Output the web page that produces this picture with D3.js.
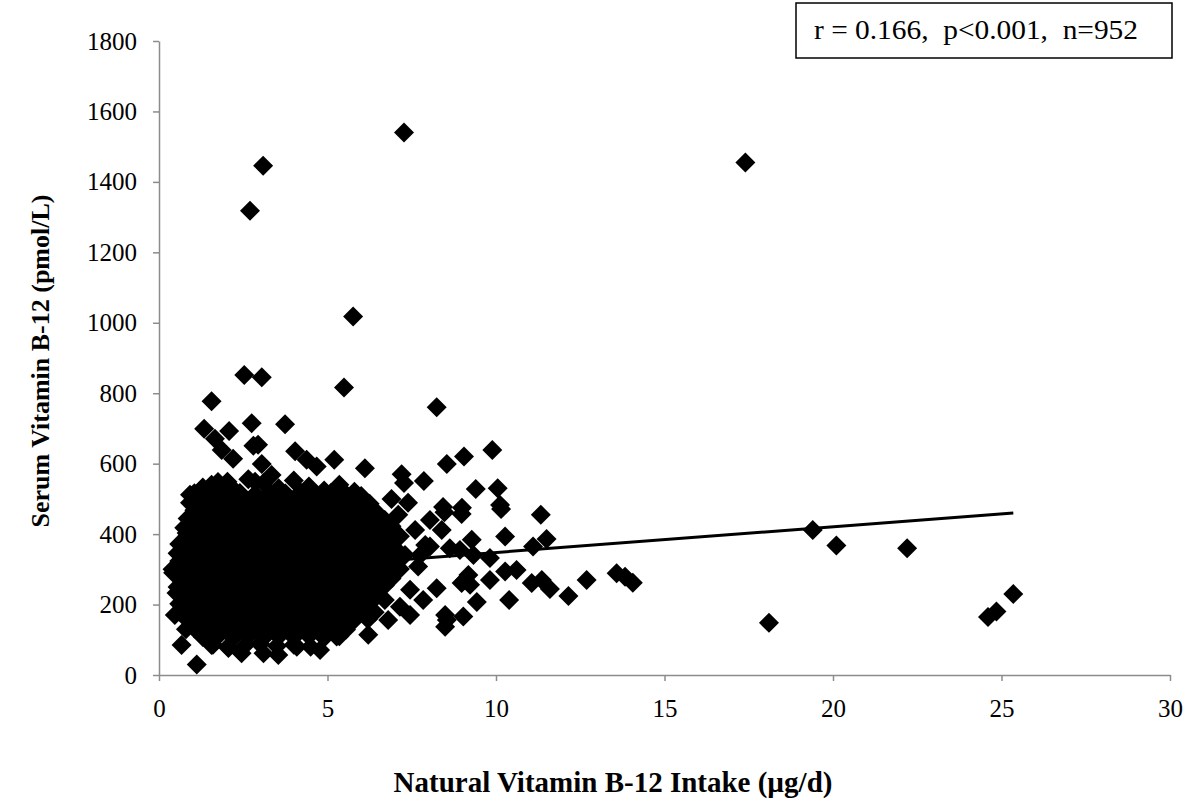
<!DOCTYPE html>
<html lang="en">
<head>
  <meta charset="UTF-8">
  <title>Serum B-12 vs intake</title>
  <script src="https://d3js.org/d3.v7.min.js"></script>
  <style>
    body { margin: 0; background: white; }
    svg { display: block; font-family: "Liberation Serif", "Times New Roman", serif; }
    .axis text { font-family: "Liberation Serif", "Times New Roman", serif; font-size: 25px; fill: #000; }
    .axis path, .axis line { stroke: #8c8c8c; stroke-width: 1.5px; }
    .title { font-size: 26px; font-weight: bold; }
    .note { font-size: 27px; white-space: pre; }
  </style>
</head>
<body>
  <svg id="chart" width="1200" height="809"></svg>
  <script>
    // tick labels
    const xTicks = [0, 5, 10, 15, 20, 25, 30];
    const yTicks = [0, 200, 400, 600, 800, 1000, 1200, 1400, 1600, 1800];

    // [intake µg/d, serum pmol/L]
    // dense core, row by row from the top (the core is solid black, so these are estimates)
    const cluster = [
      [1.3,532],[1.75,548],[2.2,528],[2.65,556],[3.1,545],[3.55,530],[4.0,552],[4.45,535],[4.9,524],[5.35,540],[5.8,520],
      [1.05,516],[1.5,519],[1.95,514],[2.4,517],[2.85,513],[3.3,518],[3.75,515],[4.2,519],[4.65,514],[5.1,517],[5.55,513],[6.0,508],
      [1.0,488],[1.3,494],[1.75,490],[2.2,493],[2.65,489],[3.1,494],[3.55,491],[4.0,495],[4.45,490],[4.9,493],[5.35,489],[5.8,494],[6.25,486],
      [1.05,468],[1.5,471],[1.95,466],[2.4,469],[2.85,465],[3.3,470],[3.75,467],[4.2,471],[4.65,466],[5.1,469],[5.55,465],[6.0,470],[6.45,462],
      [0.85,444],[1.3,447],[1.75,442],[2.2,446],[2.65,441],[3.1,445],[3.55,443],[4.0,447],[4.45,442],[4.9,446],[5.35,441],[5.8,445],[6.25,443],[6.7,440],
      [0.75,418],[1.05,420],[1.5,423],[1.95,418],[2.4,422],[2.85,417],[3.3,421],[3.75,419],[4.2,423],[4.65,418],[5.1,422],[5.55,417],[6.0,421],[6.45,419],[6.9,422],
      [0.85,396],[1.3,399],[1.75,394],[2.2,398],[2.65,393],[3.1,397],[3.55,395],[4.0,399],[4.45,394],[4.9,398],[5.35,393],[5.8,397],[6.25,395],[6.7,398],[7.15,394],
      [0.6,372],[1.05,375],[1.5,370],[1.95,374],[2.4,369],[2.85,373],[3.3,371],[3.75,375],[4.2,370],[4.65,374],[5.1,369],[5.55,373],[6.0,371],[6.45,374],[6.9,370],
      [0.55,346],[0.85,348],[1.3,351],[1.75,346],[2.2,350],[2.65,345],[3.1,349],[3.55,347],[4.0,351],[4.45,346],[4.9,350],[5.35,345],[5.8,349],[6.25,347],[6.7,350],[7.15,346],
      [0.6,324],[1.05,327],[1.5,322],[1.95,326],[2.4,321],[2.85,325],[3.3,323],[3.75,327],[4.2,322],[4.65,326],[5.1,321],[5.55,325],[6.0,323],[6.45,326],[6.9,322],
      [0.4,300],[0.85,302],[1.3,298],[1.75,303],[2.2,299],[2.65,301],[3.1,297],[3.55,302],[4.0,298],[4.45,303],[4.9,299],[5.35,301],[5.8,297],[6.25,302],[6.7,298],[7.15,301],
      [0.6,276],[1.05,279],[1.5,274],[1.95,278],[2.4,273],[2.85,277],[3.3,275],[3.75,279],[4.2,274],[4.65,278],[5.1,273],[5.55,277],[6.0,275],[6.45,278],[6.9,274],
      [0.55,250],[0.85,252],[1.3,255],[1.75,250],[2.2,254],[2.65,249],[3.1,253],[3.55,251],[4.0,255],[4.45,250],[4.9,254],[5.35,249],[5.8,253],[6.25,251],[6.7,254],
      [0.6,228],[1.05,231],[1.5,226],[1.95,230],[2.4,225],[2.85,229],[3.3,227],[3.75,231],[4.2,226],[4.65,230],[5.1,225],[5.55,229],[6.0,227],[6.45,230],
      [0.6,202],[0.85,204],[1.3,207],[1.75,202],[2.2,206],[2.65,201],[3.1,205],[3.55,203],[4.0,207],[4.45,202],[4.9,206],[5.35,201],[5.8,205],[6.25,203],
      [0.6,180],[1.05,183],[1.5,178],[1.95,182],[2.4,177],[2.85,181],[3.3,179],[3.75,183],[4.2,178],[4.65,182],[5.1,177],[5.55,181],[6.0,179],[6.4,178],
      [0.85,156],[1.3,159],[1.75,154],[2.2,158],[2.65,153],[3.1,157],[3.55,155],[4.0,159],[4.45,154],[4.9,158],[5.35,153],[5.8,157],[6.2,158],
      [0.8,130],[1.05,132],[1.5,135],[1.95,130],[2.4,134],[2.85,129],[3.3,133],[3.75,131],[4.2,135],[4.65,130],[5.1,134],[5.55,129],
      [1.3,108],[1.75,111],[2.2,106],[2.65,110],[3.1,105],[3.55,109],[4.0,107],[4.45,111],[4.9,106],[5.35,110],
      [1.6,86],[2.05,80],[2.55,84],[3.0,88],[3.5,82],[4.0,86],[4.5,80],
      [0.67,85],[1.12,30],[1.56,85],[2.06,77],[2.45,62],[3.1,62],[3.54,57],[4.09,80],[4.78,71],[5.27,109]
    ];

    // scattered points around and outside the core
    const scatter = [
      [7.27,1540],[3.09,1446],[2.7,1318],[17.4,1455],[5.76,1018],[5.49,816],[2.53,852],[3.05,845],
      [1.56,777],[8.24,760],[1.34,699],[2.08,693],[2.75,715],[3.74,712],[1.66,671],[1.86,639],
      [2.2,614],[2.8,651],[2.94,654],[3.05,599],[4.04,635],[4.38,611],[4.68,592],[5.2,611],
      [0.92,512],[1.56,540],[2.03,549],[2.85,549],[3.34,568],[6.11,587],[7.2,570],[7.86,551],
      [7.27,545],[7.39,489],[8.43,477],[8.99,475],[10.12,483],[9.05,620],[8.54,599],[9.89,639],
      [9.4,528],[10.05,530],[10.15,471],[8.98,457],[8.47,462],[8.39,412],[9.28,384],[10.27,393],
      [11.5,386],[11.1,365],[8.63,360],[9.82,332],[9.33,341],[10.61,298],[9.82,270],[9.08,270],
      [9.23,256],[11.06,261],[11.36,270],[11.6,244],[12.15,224],[12.69,270],[13.58,289],[13.83,279],
      [14.06,262],[10.39,213],[9.43,207],[9.03,166],[8.54,156],[8.49,137],[11.33,455],[10.27,294],
      [9.18,284],[8.98,261],[8.49,170],[7.84,213],[8.24,246],[6.8,156],[6.21,114],[7.45,170],
      [7.15,194],[7.69,308],[8.04,365],[8.93,355],[7.6,412],[7.9,369],[7.3,341],
      [7.45,242],[7.75,341],[6.7,213],[8.04,440],[6.9,500],[7.1,455],
      [0.42,290],[0.47,170],[0.72,355],[0.82,403],[0.97,440],[0.92,489],[0.52,233],
      [19.4,412],[20.1,368],[22.2,360],[18.1,148],[24.6,165],[24.85,180],[25.35,230]
    ];

    // linear trend line end points
    const trendX = [0.42, 25.35];
    const trendY = [278, 460];

    const noteText = "r = 0.166,  p<0.001,  n=952";

    const svg = d3.select("#chart");

    const x = d3.scaleLinear().domain([0, 30]).range([159, 1170]);
    const y = d3.scaleLinear().domain([0, 1800]).range([675, 41]);

    const xAxis = svg.append("g")
      .attr("class", "axis")
      .attr("transform", "translate(0,675)")
      .call(d3.axisBottom(x).tickValues(xTicks).tickFormat(d3.format("d"))
        .tickSize(6).tickSizeOuter(0).tickPadding(18));
    xAxis.selectAll(".tick text").attr("dy", "0.71em");

    svg.append("g")
      .attr("class", "axis")
      .attr("transform", "translate(159,0)")
      .call(d3.axisLeft(y).tickValues(yTicks).tickFormat(d3.format("d"))
        .tickSize(6).tickSizeOuter(0).tickPadding(16));

    const points = cluster.concat(scatter);
    const diamond = d3.symbol().type(d3.symbolSquare).size(200);

    svg.append("g").selectAll("path")
      .data(points)
      .join("path")
        .attr("d", diamond)
        .attr("transform", d => `translate(${x(d[0])},${y(d[1])}) rotate(45)`)
        .attr("fill", "#000");

    svg.append("line")
      .attr("x1", x(trendX[0])).attr("y1", y(trendY[0]))
      .attr("x2", x(trendX[1])).attr("y2", y(trendY[1]))
      .attr("stroke", "#000")
      .attr("stroke-width", 3);

    // axis titles
    svg.append("text")
      .attr("class", "title")
      .attr("x", 613).attr("y", 792)
      .attr("text-anchor", "middle")
      .style("font-size", "29px")
      .text("Natural Vitamin B-12 Intake (µg/d)");

    svg.append("text")
      .attr("class", "title")
      .attr("transform", "translate(49,361) rotate(-90)")
      .attr("text-anchor", "middle")
      .text("Serum Vitamin B-12 (pmol/L)");

    // stats box
    svg.append("rect")
      .attr("x", 796).attr("y", 3)
      .attr("width", 376).attr("height", 55)
      .attr("fill", "white")
      .attr("stroke", "#000")
      .attr("stroke-width", 1.5);

    svg.append("text")
      .attr("class", "note")
      .attr("x", 814).attr("y", 39)
      .attr("textLength", 324)
      .attr("lengthAdjust", "spacingAndGlyphs")
      .text(noteText);
  </script>
</body>
</html>
